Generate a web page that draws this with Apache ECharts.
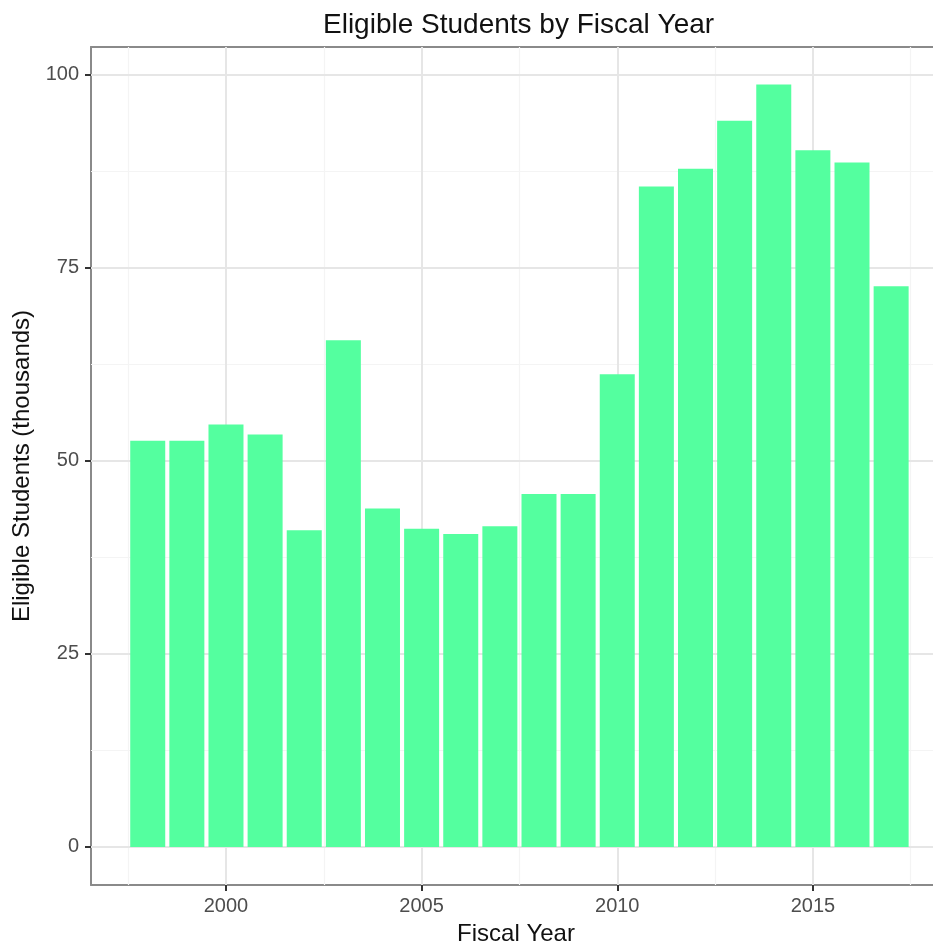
<!DOCTYPE html>
<html>
<head>
<meta charset="utf-8">
<script src="https://cdn.jsdelivr.net/npm/echarts@6/dist/echarts.min.js"></script>
<style>
html,body{margin:0;padding:0;background:#fff;overflow:hidden;}
#chart{width:933px;height:946px;}
</style>
</head>
<body>
<div id="chart"></div>
<script>
// Data
var years = [1998,1999,2000,2001,2002,2003,2004,2005,2006,2007,2008,2009,2010,2011,2012,2013,2014,2015,2016,2017];
var students = [52.6,52.6,54.7,53.4,41.0,65.6,43.8,41.2,40.5,41.5,45.7,45.7,61.2,85.5,87.8,94.0,98.7,90.2,88.6,72.6];
var xTicks = [2000,2005,2010,2015];
var xMinor = [1997.5,2002.5,2007.5,2012.5,2017.5];
var yTicks = [0,25,50,75,100];
var yMinor = [12.5,37.5,62.5,87.5];

var chart = echarts.init(document.getElementById('chart'), null, {renderer:'canvas'});
var font = 'Liberation Sans, Arial, sans-serif';

var barData = years.map(function(y,i){ return [y, students[i]]; });

var gridLines = [];
xMinor.forEach(function(v){ gridLines.push({xAxis:v, lineStyle:{color:'#F4F4F4', width:1.2, type:'solid'}}); });
yMinor.forEach(function(v){ gridLines.push({yAxis:v, lineStyle:{color:'#F4F4F4', width:1.2, type:'solid'}}); });
xTicks.forEach(function(v){ gridLines.push({xAxis:v, lineStyle:{color:'#E6E6E6', width:2, type:'solid'}}); });
yTicks.forEach(function(v){ gridLines.push({yAxis:v, lineStyle:{color:'#E6E6E6', width:2, type:'solid'}}); });

var borderLine = {show:true, onZero:false, lineStyle:{color:'#8a8a8a', width:2}};

var option = {
  backgroundColor:'#ffffff',
  animation:false,
  title:{
    text:'Eligible Students by Fiscal Year',
    left:318, top:6,
    textStyle:{fontFamily:font, fontSize:28, fontWeight:'normal', color:'#111'}
  },
  grid:{
    left:91, top:47, right:0, bottom:61,
    containLabel:false, outerBoundsMode:'none', show:false
  },
  xAxis:[{
    type:'value', min:1996.55, max:2018.07, position:'bottom',
    name:'Fiscal Year', nameLocation:'middle', nameGap:37,
    nameTextStyle:{fontFamily:font, fontSize:24, color:'#111', padding:[0,0,0,8]},
    axisLine:borderLine,
    axisTick:{show:true, length:6, lineStyle:{color:'#333', width:2}, customValues:xTicks},
    axisLabel:{fontFamily:font, fontSize:20, color:'#4D4D4D', margin:11, customValues:xTicks,
      formatter:function(v){ return String(v); }},
    splitLine:{show:false}
  },{
    type:'value', min:1996.55, max:2018.07, position:'top',
    axisLine:borderLine, axisTick:{show:false}, axisLabel:{show:false}, splitLine:{show:false}
  }],
  yAxis:{
    type:'value', min:-4.93, max:103.56,
    name:'Eligible Students (thousands)', nameLocation:'middle', nameGap:43, nameRotate:90,
    nameTextStyle:{fontFamily:font, fontSize:24, color:'#111'},
    axisLine:borderLine,
    axisTick:{show:true, length:6, lineStyle:{color:'#333', width:2}, customValues:yTicks},
    axisLabel:{fontFamily:font, fontSize:20, color:'#4D4D4D', margin:12, customValues:yTicks},
    splitLine:{show:false}
  },
  series:[
    {
      type:'line', data:[], z:1, silent:true, xAxisIndex:0,
      markLine:{silent:true, symbol:'none', label:{show:false}, animation:false, data:gridLines}
    },
    {
      type:'bar', data:barData, zlevel:1, z:3, barWidth:35, xAxisIndex:0,
      itemStyle:{color:'#54FF9F'}
    }
  ]
};
chart.setOption(option);
</script>
</body>
</html>
